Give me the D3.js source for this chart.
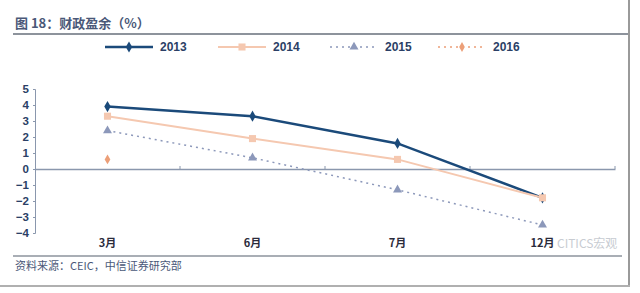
<!DOCTYPE html>
<html><head><meta charset="utf-8">
<script src="https://cdn.jsdelivr.net/npm/d3@7"></script>
<style>body{margin:0;background:#fff;}svg{display:block;}</style>
</head><body>
<svg id="c" width="640" height="293"></svg>
<script>
const categories = ["3月", "6月", "7月", "12月"];
const s2013 = [3.9, 3.3, 1.6, -1.8];
const s2014 = [3.3, 1.9, 0.6, -1.8];
const s2015 = [2.4, 0.7, -1.3, -3.5];
const s2016 = [0.6, null, null, null];
const yTicks = [5, 4, 3, 2, 1, 0, -1, -2, -3, -4];
const seriesNames = ["2013", "2014", "2015", "2016"];

const svg = d3.select("#c");
const font = "'Liberation Sans', Arial, sans-serif";
const cjk = "'Noto Sans CJK SC', sans-serif";

// frame
svg.append("line").attr("x1",629).attr("x2",629).attr("y1",0).attr("y2",286).attr("stroke","#9a9a9a").attr("stroke-width",2);
svg.append("line").attr("x1",0).attr("x2",630).attr("y1",286).attr("y2",286).attr("stroke","#b0b0b0").attr("stroke-width",2);

// title
svg.append("text").attr("x",15).attr("y",28).attr("font-family",cjk).attr("font-size",13).attr("font-weight","bold")
  .attr("fill","#4a5878").text("图 18：财政盈余（%）");
svg.append("line").attr("x1",13).attr("x2",628).attr("y1",34).attr("y2",34).attr("stroke","#8d939c").attr("stroke-width",2);

// footer
svg.append("line").attr("x1",13).attr("x2",622).attr("y1",256).attr("y2",256).attr("stroke","#8d939c").attr("stroke-width",1.5);
svg.append("text").attr("x",15).attr("y",270).attr("font-family",cjk).attr("font-size",11)
  .attr("fill","#4a5878").text("资料来源：CEIC，中信证券研究部");

const x = d3.scaleBand().domain(categories).range([35, 615]);
const y = d3.scaleLinear().domain([-4, 5]).range([233, 89]);

// y axis
const yAxis = d3.axisLeft(y).tickValues(yTicks).tickSize(2).tickFormat(d3.format("d"));
const gy = svg.append("g").attr("transform","translate(35,0)").call(yAxis);
gy.select(".domain").attr("stroke","#8a97ad");
gy.selectAll(".tick line").attr("stroke","#8a97ad");
gy.selectAll(".tick text").attr("font-family",font).attr("font-size",11.5).attr("font-weight","bold").attr("fill","#2b3f66").attr("dx",-1);

// zero axis
const xAxis = d3.axisBottom(x).tickSize(0).tickFormat("");
const gx = svg.append("g").attr("transform",`translate(0,${y(0)})`).call(xAxis);
gx.select(".domain").attr("stroke","#8a97ad").attr("stroke-width",1.5);
const bounds = categories.map(c => x(c) + x.bandwidth());
svg.selectAll(".btick").data(bounds).enter().append("line")
  .attr("x1",d=>d).attr("x2",d=>d).attr("y1",y(0)-3).attr("y2",y(0)).attr("stroke","#8a97ad");

// category labels
svg.selectAll(".cat").data(categories).enter().append("text")
  .attr("x",d=>x(d)+x.bandwidth()/2).attr("y",247).attr("text-anchor","middle")
  .attr("font-family",cjk).attr("font-size",11).attr("font-weight","bold").attr("fill","#2b2b3b").text(d=>d);

// watermark (shifted to avoid overlapping the category label)
svg.append("text").attr("x",557).attr("y",248).attr("font-family",cjk).attr("font-size",12)
  .attr("fill","#c8ccd2").text("CITICS宏观");

const cx = (d,i) => x(categories[i]) + x.bandwidth()/2;
const styles = [
  {data:s2013, color:"#1b4a7a", width:2.5, dash:null, sym:d3.symbolDiamond, size:36},
  {data:s2014, color:"#f5c8b0", width:2, dash:null, sym:d3.symbolSquare, size:50},
  {data:s2015, color:"#8c98ba", width:1.5, dash:"2,4", sym:d3.symbolTriangle, size:35},
  {data:s2016, color:"#ec9f78", width:1.5, dash:"2,4", sym:d3.symbolDiamond, size:28},
];
styles.forEach(s => {
  const line = d3.line().defined(d=>d!=null).x(cx).y(d=>y(d));
  svg.append("path").datum(s.data).attr("d",line).attr("fill","none").attr("stroke",s.color)
    .attr("stroke-width",s.width).attr("stroke-dasharray",s.dash);
  svg.selectAll(null).data(s.data.map((v,i)=>({v,i})).filter(d=>d.v!=null)).enter().append("path")
    .attr("d",d3.symbol().type(s.sym).size(s.size))
    .attr("transform",d=>`translate(${cx(d.v,d.i)},${y(d.v)})`).attr("fill",s.color);
});

// legend
const legX = [105, 218, 330, 438];
styles.forEach((s,i) => {
  const g = svg.append("g").attr("transform",`translate(${legX[i]},47)`);
  g.append("line").attr("x1",0).attr("x2",48).attr("y1",0).attr("y2",0).attr("stroke",s.color)
    .attr("stroke-width",s.width).attr("stroke-dasharray",s.dash);
  g.append("path").attr("d",d3.symbol().type(s.sym).size(s.size)).attr("transform","translate(24,0)").attr("fill",s.color);
  g.append("text").attr("x",55).attr("y",4).attr("font-family",font).attr("font-size",12).attr("font-weight","bold")
    .attr("fill","#2b3f66").text(seriesNames[i]);
});
</script>
</body></html>
